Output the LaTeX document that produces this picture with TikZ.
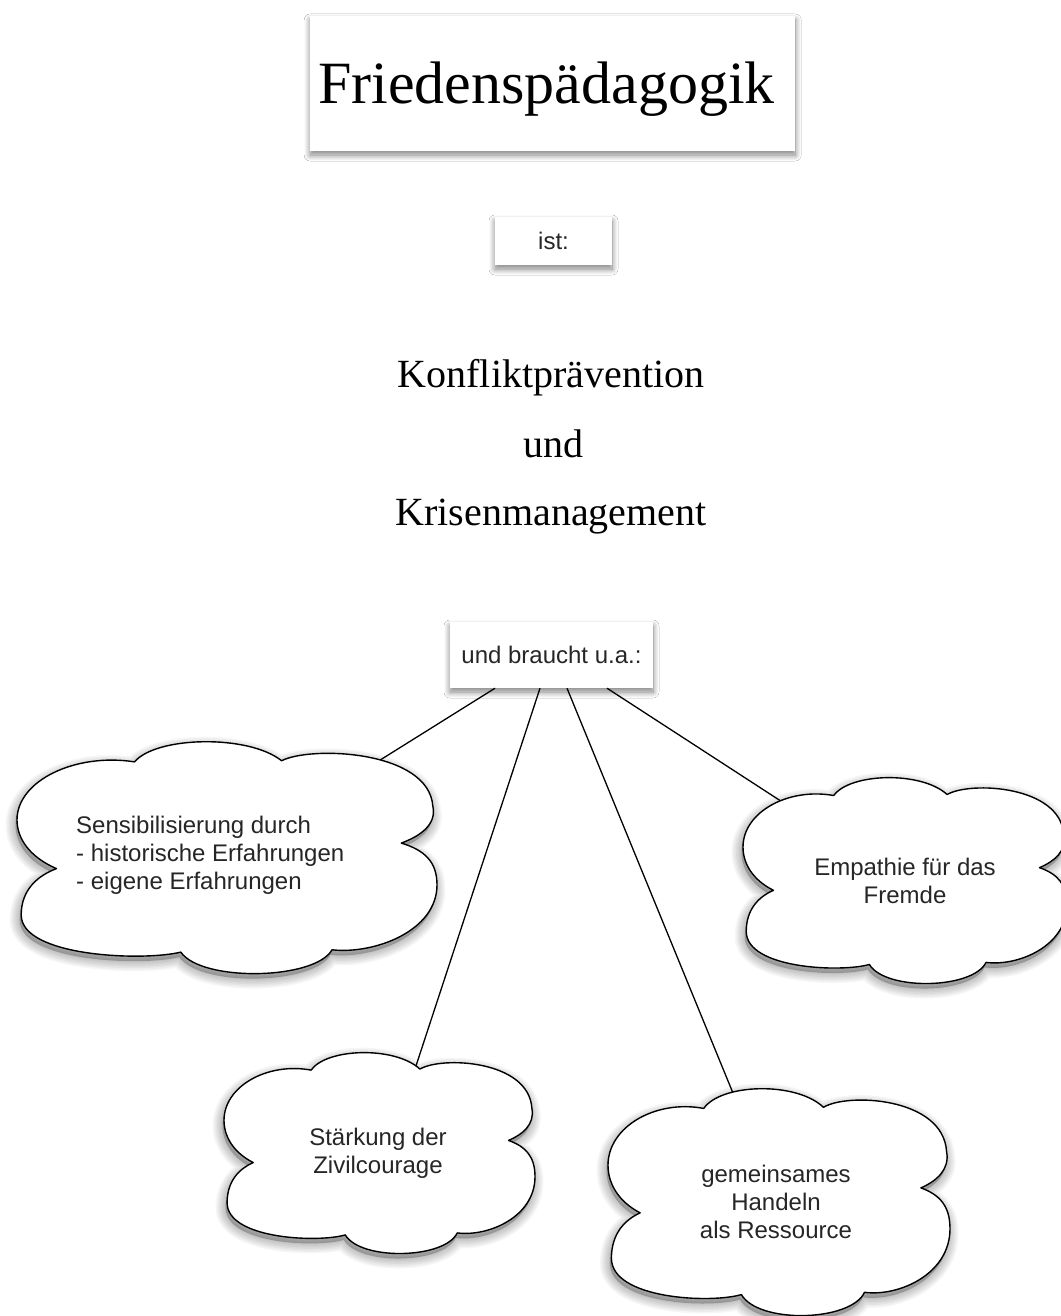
\documentclass[tikz,border=0pt]{standalone}
\usepackage{fontspec}
\setmainfont{Liberation Serif}
\newfontfamily\sansf{Liberation Sans}
\usetikzlibrary{shadows.blur}
\tikzset{
  boxstyle/.style={fill=white, draw=none,
    blur shadow={shadow xshift=0pt, shadow yshift=-4pt, shadow blur radius=6pt, shadow blur steps=12, shadow opacity=50}},
  cloudstyle/.style={fill=white, draw=black, line width=1.4pt, line join=round},
  cloudshade/.style={fill=black, draw=black, line join=round, opacity=0.035},
  sanstext/.style={font=\sansf\fontsize{24}{28}\selectfont, text=black!85, inner sep=0pt},
  serifbig/.style={font=\fontsize{40}{48}\selectfont, inner sep=0pt},
  link/.style={draw=black, line width=1.3pt},
}
\def\cloudpts{(0.094,0.55)
      .. controls (0.03,0.50) and (0,0.42) .. (0,0.34)
      .. controls (0,0.17) and (0.14,0.05) .. (0.28,0.09)
      .. controls (0.33,-0.02) and (0.55,-0.03) .. (0.63,0.085)
      .. controls (0.70,0.02) and (0.98,0.04) .. (0.99,0.28)
      .. controls (1.0,0.36) and (0.96,0.41) .. (0.915,0.44)
      .. controls (0.97,0.47) and (1.0,0.52) .. (1.0,0.62)
      .. controls (1.0,0.82) and (0.85,0.92) .. (0.75,0.90)
      .. controls (0.71,1.03) and (0.44,1.04) .. (0.39,0.91)
      .. controls (0.30,0.95) and (0.01,0.93) .. (0.01,0.75)
      .. controls (0.01,0.64) and (0.05,0.58) .. (0.094,0.55) -- cycle}
\newcommand{\cloudat}[4]{%
  \begin{scope}[shift={(#1pt,-#2pt)}, x={(#3pt,0pt)}, y={(0pt,-#4pt)}]
    \begin{scope}[xshift=-1.5pt, yshift=-5pt]
      \foreach \w in {20,17,14,11,8,5,2} {\path[cloudshade, line width=\w pt] \cloudpts;}
    \end{scope}
    \path[cloudstyle] \cloudpts;
  \end{scope}}
\begin{document}
\begin{tikzpicture}[x=1pt,y=1pt]
\useasboundingbox (0,0) rectangle (1060,-1316);
\fill[white] (0,0) rectangle (1060,-1316);

% title
\node[boxstyle, anchor=base west, inner xsep=8pt, inner ysep=0pt, text width=469pt,
      align=left, text height=88pt, text depth=47pt,
      font=\fontsize{60}{72}\selectfont] (title) at (310,-104) {Friedenspädagogik};

\node[boxstyle, sanstext, minimum width=117pt, minimum height=48pt] (ist) at (553.5,-241) {ist:};

\node[serifbig, anchor=base] (konf) at (551,-387) {Konfliktprävention};
\node[serifbig, anchor=base] (und) at (553,-457) {und};
\node[serifbig, anchor=base] (kris) at (551,-525) {Krisenmanagement};

\node[boxstyle, sanstext, minimum width=203pt, minimum height=66pt] (ub) at (551.5,-655) {und braucht u.a.:};

% connector ends on the clouds
\coordinate (c1) at (377,-762);
\coordinate (c2) at (412,-1078);
\coordinate (c3) at (735,-1098);
\coordinate (c4) at (790,-807);
\draw[link] ([xshift=-56.5pt]ub.south) -- (c1);
\draw[link] ([xshift=-11.5pt]ub.south) -- (c2);
\draw[link] ([xshift=15.5pt]ub.south) -- (c3);
\draw[link] ([xshift=55.5pt]ub.south) -- (c4);

% clouds
\cloudat{17}{741}{420}{232}
\cloudat{743}{777}{324}{206}
\cloudat{224}{1052}{311}{201}
\cloudat{608}{1088}{342}{227}

\node[sanstext, align=left, anchor=north west] (sens) at (76,-815.5)
  {Sensibilisierung durch\\- historische Erfahrungen\\- eigene Erfahrungen};
\node[sanstext, align=center, anchor=north] (emp) at (905,-857.5)
  {Empathie für das\\Fremde};
\node[sanstext, align=center, anchor=north] (staerk) at (378,-1127.5)
  {Stärkung der\\Zivilcourage};
\node[sanstext, align=center, anchor=north] (gemein) at (776,-1165)
  {gemeinsames\\Handeln\\als Ressource};
\end{tikzpicture}
\end{document}
